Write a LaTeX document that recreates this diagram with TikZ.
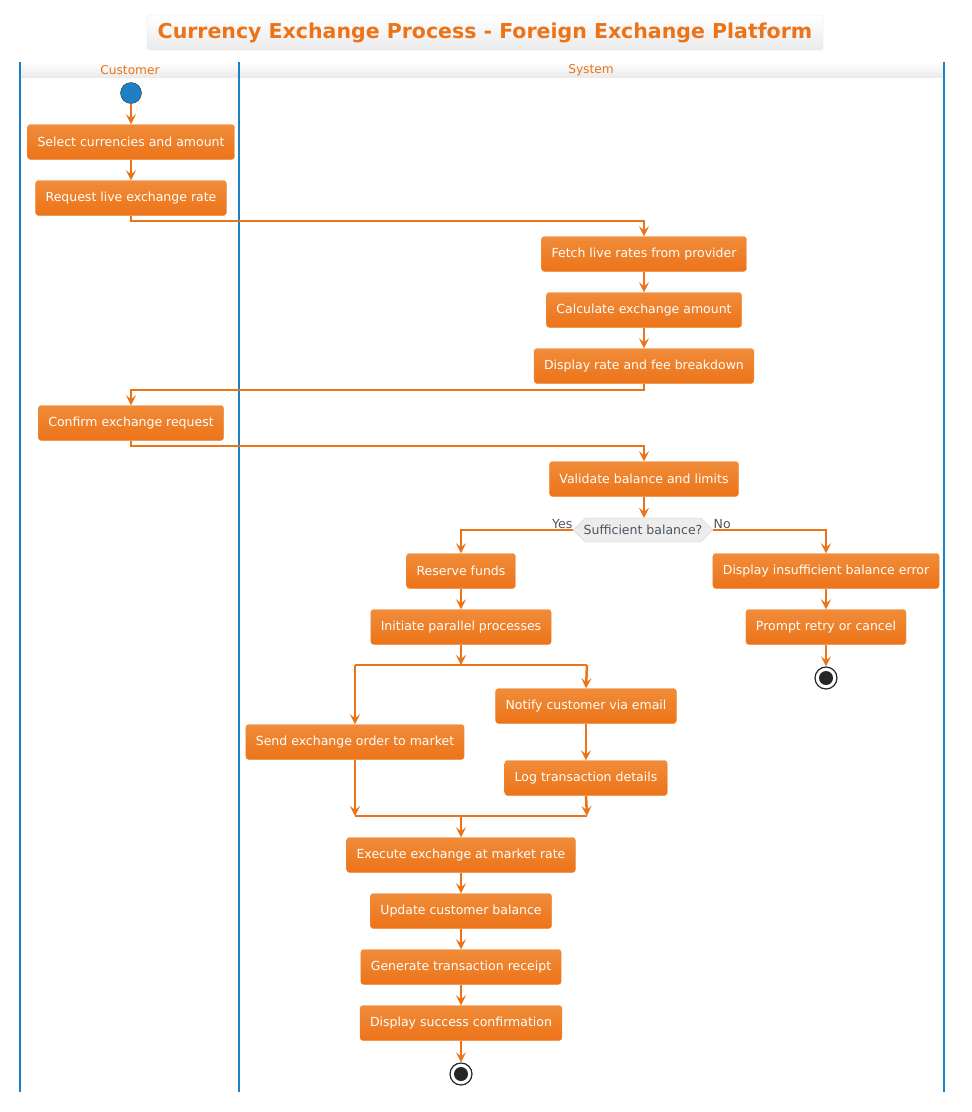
\documentclass[tikz,border=0pt]{standalone}
\usepackage{fontspec}
\setmainfont{DejaVu Sans}
\usetikzlibrary{arrows.meta,shapes.geometric,shapes.misc}
\definecolor{org}{HTML}{EC7318}
\definecolor{orgT}{HTML}{F08C3A}
\definecolor{lane}{HTML}{1F7FC4}
\definecolor{txt}{HTML}{4A5560}
\tikzset{
 x=1pt,y=-1pt,
 act/.style={draw=orgT,rounded corners=3pt,top color=orgT,bottom color=org,text=white,
   font=\fontsize{12.5}{14}\selectfont,minimum height=35pt,inner xsep=10pt},
 fl/.style={draw=org,line width=2.5pt,-{Stealth[length=10pt,width=10pt,inset=4pt]}},
 bar/.style={draw=org,line width=1.5pt},
 endn/.style={circle,draw=black!85,line width=1.2pt,minimum size=22pt,inner sep=0pt,
   path picture={\fill[black!85] (path picture bounding box.center) circle (7pt);}},
}
\begin{document}
\begin{tikzpicture}
\useasboundingbox (0,0) rectangle (972,1112);
\fill[white] (0,0) rectangle (972,1112);
% title
\node[draw=black!10,rounded corners=3pt,top color=white,bottom color=black!8,
  minimum width=676pt,minimum height=35pt,text=org,font=\bfseries\fontsize{20.5}{24}\selectfont]
  (title) at (485,32.5) {Currency Exchange Process - Foreign Exchange Platform};
% lanes
\shade[top color=white,bottom color=black!8] (20,62) rectangle (944,77);
\foreach \x in {20,239,944} \draw[lane,line width=2pt] (\x,62) -- (\x,1092);
\node[text=org,font=\fontsize{12.2}{14}\selectfont] (lc) at (130,70) {Customer};
\node[text=org,font=\fontsize{12.2}{14}\selectfont] (ls) at (591,70) {System};
% nodes
\node[circle,fill=lane,draw=black!80,minimum size=21pt,inner sep=0pt] (start) at (131,93) {};
\node[act] (a1) at (131,142) {Select currencies and amount};
\node[act] (a2) at (131,198) {Request live exchange rate};
\node[act] (b1) at (644,254) {Fetch live rates from provider};
\node[act] (b2) at (644,310) {Calculate exchange amount};
\node[act] (b3) at (644,366) {Display rate and fee breakdown};
\node[act] (a3) at (131,423) {Confirm exchange request};
\node[act] (b4) at (644,479) {Validate balance and limits};
\node[chamfered rectangle,chamfered rectangle xsep=8pt,draw=black!20,fill=black!7,text=txt,
  font=\fontsize{12.5}{14}\selectfont,minimum height=24pt,inner xsep=2pt] (d) at (643,530) {Sufficient balance?};
\node[act] (r1) at (461,571) {Reserve funds};
\node[act] (r2) at (461,627) {Initiate parallel processes};
\node[act] (n1) at (586,706) {Notify customer via email};
\node[act] (s1) at (355,742) {Send exchange order to market};
\node[act] (n2) at (586,778) {Log transaction details};
\node[act] (e1) at (461,855) {Execute exchange at market rate};
\node[act] (e2) at (461,911) {Update customer balance};
\node[act] (e3) at (461,967) {Generate transaction receipt};
\node[act] (e4) at (461,1023) {Display success confirmation};
\node[endn] (end1) at (461,1074) {};
\node[act] (x1) at (826,571) {Display insufficient balance error};
\node[act] (x2) at (826,627) {Prompt retry or cancel};
\node[endn] (end2) at (826,678) {};
\coordinate (f1) at (355,665); \coordinate (f2) at (587,665);
\coordinate (j1) at (355,816); \coordinate (j2) at (587,816);
% edges
\draw[fl] (start) -- (a1);
\draw[fl] (a1) -- (a2);
\draw[fl] (a2.south) |- (644,221) -- (b1.north);
\draw[fl] (b1) -- (b2);
\draw[fl] (b2) -- (b3);
\draw[fl] (b3.south) |- (131,390) -- (a3.north);
\draw[fl] (a3.south) |- (644,446) -- (b4.north);
\draw[fl] (b4.south) -- (d.north -| b4.south);
\draw[fl] (d.west) -| (r1.north);
\draw[fl] (d.east) -| (x1.north);
\node[text=txt,font=\fontsize{12.5}{14}\selectfont,anchor=south east,inner sep=1pt] (yes) at (d.west) {Yes};
\node[text=txt,font=\fontsize{12.5}{14}\selectfont,anchor=south west,inner sep=1pt] (no) at (d.east) {No};
\draw[fl] (r1) -- (r2);
\draw[fl] (r2.south) -- (461,665);
\draw[bar] (f1) -- (f2);
\draw[fl] (f1) -- (s1.north);
\draw[fl] (587,665) -- (n1.north);
\draw[fl] (n1) -- (n2);
\draw[fl] (s1.south) -- (j1);
\draw[fl] (n2.south) -- (j2);
\draw[bar] (j1) -- (j2);
\draw[fl] (461,816) -- (e1.north);
\draw[fl] (e1) -- (e2);
\draw[fl] (e2) -- (e3);
\draw[fl] (e3) -- (e4);
\draw[fl] (e4) -- (end1);
\draw[fl] (x1) -- (x2);
\draw[fl] (x2) -- (end2);
\end{tikzpicture}
\end{document}
